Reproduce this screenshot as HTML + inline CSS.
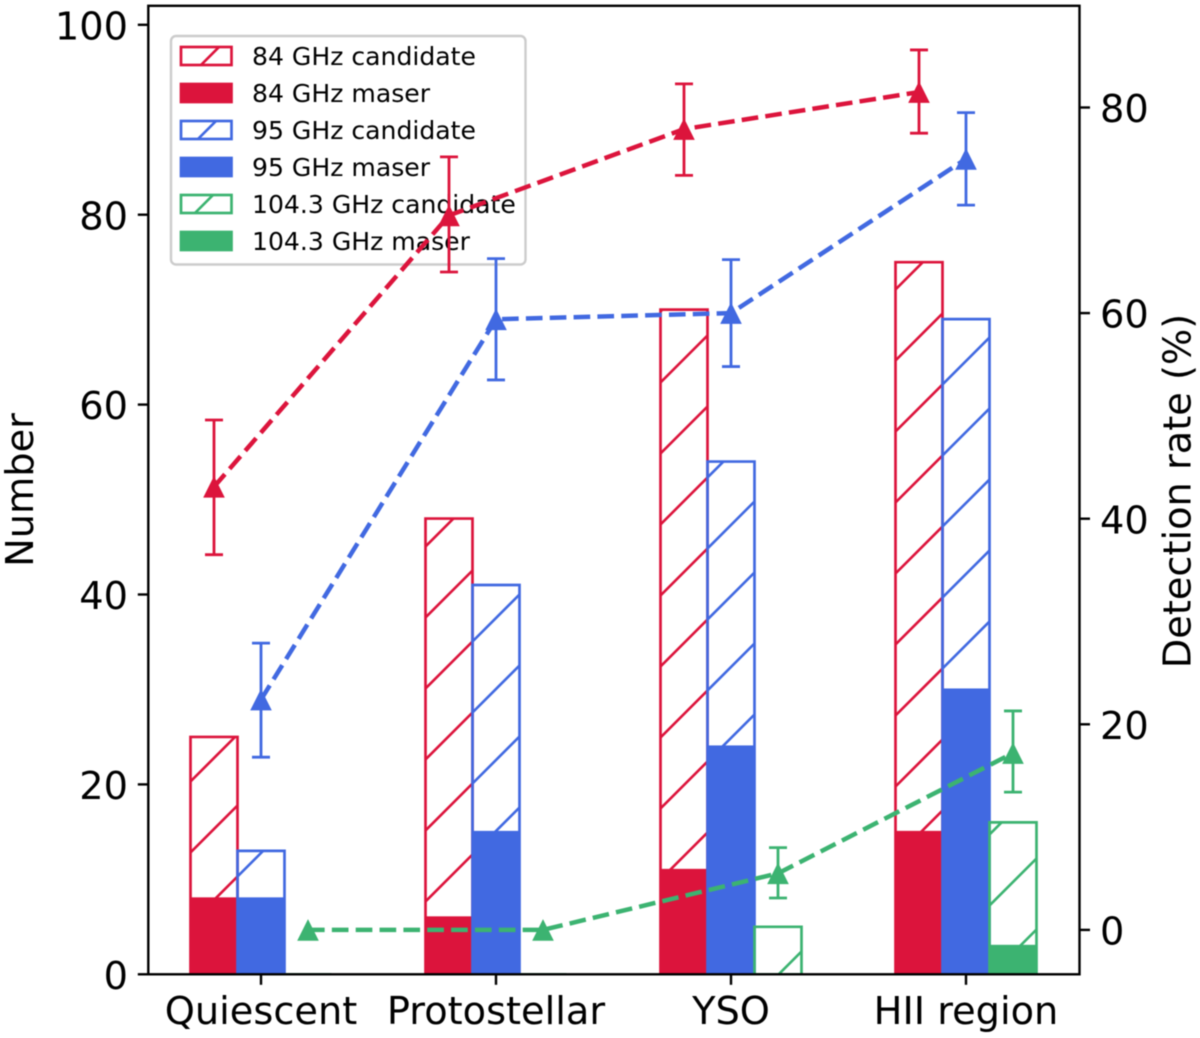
<!DOCTYPE html>
<html lang="en">
<head>
<meta charset="utf-8">
<title>Maser detection by evolutionary stage</title>
<style>
html,body{margin:0;padding:0;background:#fff;}
svg{display:block;filter:blur(0.4px);}
text{font-family:"DejaVu Sans","Liberation Sans",sans-serif;fill:#000;}
</style>
</head>
<body>
<svg id="chart" xmlns="http://www.w3.org/2000/svg" width="1200" height="1038" viewBox="0 0 1200 1038"></svg>
<script>
// ---- data ----
const categories = ["Quiescent", "Protostellar", "YSO", "HII region"];
const candidate84 = [25, 48, 70, 75];
const maser84 = [8, 6, 11, 15];
const candidate95 = [13, 41, 54, 69];
const maser95 = [8, 15, 24, 30];
const candidate104 = [0, 0, 5, 16];
const maser104 = [0, 0, 0, 3];
const rate84 = [43.1, 69.5, 77.9, 81.5];
const rate84Upper = [49.6, 75.2, 82.3, 85.6];
const rate84Lower = [36.5, 64.0, 73.4, 77.5];
const rate95 = [22.4, 59.4, 60.0, 75.0];
const rate95Upper = [27.9, 65.3, 65.2, 79.5];
const rate95Lower = [16.8, 53.5, 54.8, 70.5];
const rate104 = [0, 0, 5.5, 17.2];
const rate104Upper = [0, 0, 8.0, 21.3];
const rate104Lower = [0, 0, 3.1, 13.4];
const leftTicks = [0, 20, 40, 60, 80, 100];
const rightTicks = [0, 20, 40, 60, 80];
const legendLabels = ["84 GHz candidate", "84 GHz maser", "95 GHz candidate", "95 GHz maser", "104.3 GHz candidate", "104.3 GHz maser"];

// ---- geometry ----
const NS = "http://www.w3.org/2000/svg";
const svg = document.getElementById("chart");
const plot = {left: 148.3, right: 1079.5, top: 5.8, bottom: 974.3};
const barW = 47;
const RED = "#DC143C", BLUE = "#4169E1", GREEN = "#3CB371";
function xPos(i) { return 261 + 235 * i; }
function yLeft(v) { return 974.3 - 9.495 * v; }
function yRight(v) { return 929.9 - 10.28 * v; }

function make(tag, attrs, parent, text) {
  const el = document.createElementNS(NS, tag);
  for (const k in attrs) el.setAttribute(k, attrs[k]);
  if (text !== undefined) el.textContent = text;
  (parent || svg).appendChild(el);
  return el;
}

// ---- defs: hatch patterns and clip ----
const defs = make("defs", {});
function hatchPattern(id, color, shift) {
  const p = make("pattern", {id: id, patternUnits: "userSpaceOnUse", width: 71, height: 71, patternTransform: "translate(" + shift + " 0)"}, defs);
  make("path", {d: "M-6 55L55 -6M-6 126L126 -6", stroke: color, "stroke-width": 2.6, fill: "none"}, p);
}
hatchPattern("hatch-red", RED, 0);
hatchPattern("hatch-blue", BLUE, 0);
hatchPattern("hatch-green", GREEN, 0);
hatchPattern("hatch-red-legend", RED, 4);
hatchPattern("hatch-blue-legend", BLUE, 4);
hatchPattern("hatch-green-legend", GREEN, 4);
const clip = make("clipPath", {id: "plot-clip"}, defs);
make("rect", {x: plot.left, y: plot.top, width: plot.right - plot.left, height: plot.bottom - plot.top}, clip);

// ---- bars ----
const barLayer = make("g", {"clip-path": "url(#plot-clip)"});



function drawBars(candidate, maser, offset, color, hatchId, label) {
  categories.forEach(function (cat, i) {
    const x0 = xPos(i) + offset - barW / 2;
    const x1 = x0 + barW;
    const yc = yLeft(candidate[i]);
    const hatchBar = make("path", {d: "M" + x0 + " " + plot.bottom + "H" + x1 + "V" + yc + "H" + x0 + "Z", fill: "url(#" + hatchId + ")", stroke: color, "stroke-width": 2.7}, barLayer);
    
    
    if (maser[i] > 0) {
      const ym = yLeft(maser[i]);
      const solidBar = make("rect", {x: x0, y: ym, width: barW, height: plot.bottom - ym, fill: color, stroke: color, "stroke-width": 2}, barLayer);
      
      
    }
  });
}
drawBars(candidate84, maser84, -47, RED, "hatch-red", "84ghz");
drawBars(candidate95, maser95, 0, BLUE, "hatch-blue", "95ghz");
drawBars(candidate104, maser104, 47, GREEN, "hatch-green", "104ghz");

// ---- legend ----
const legend = make("g", {});


make("rect", {x: 171, y: 36, width: 354.5, height: 228.5, rx: 5, ry: 5, fill: "#fff", "fill-opacity": 0.8, stroke: "#cccccc", "stroke-width": 2.4}, legend);
const legendColors = [RED, RED, BLUE, BLUE, GREEN, GREEN];
const legendHatch = ["hatch-red-legend", null, "hatch-blue-legend", null, "hatch-green-legend", null];
legendLabels.forEach(function (label, i) {
  const cy = 56 + i * 37;
  const swatch = make("rect", {x: 181, y: cy - 9, width: 50.5, height: 18, fill: legendHatch[i] ? "url(#" + legendHatch[i] + ")" : legendColors[i], stroke: legendColors[i], "stroke-width": 2.7}, legend);
  
  
  const entry = make("text", {x: 252, y: cy + 9, "font-size": 25.1}, legend, label);
  
  
});

// ---- rate series ----
function drawSeries(rate, upper, lower, offset, color, label) {
  const g = make("g", {});
  
  
  rate.forEach(function (r, i) {
    const x = xPos(i) + offset;
    if (upper[i] !== lower[i]) {
      const bar = make("path", {d: "M" + x + " " + yRight(upper[i]) + "V" + yRight(lower[i]) + "M" + (x - 9) + " " + yRight(upper[i]) + "H" + (x + 9) + "M" + (x - 9) + " " + yRight(lower[i]) + "H" + (x + 9), stroke: color, "stroke-width": 2.8, fill: "none"}, g);
      
      
    }
  });
  const pts = rate.map(function (r, i) { return (xPos(i) + offset) + "," + yRight(r); }).join(" ");
  const line = make("polyline", {points: pts, fill: "none", stroke: color, "stroke-width": 4.5, "stroke-dasharray": "16.65 7.2"}, g);
  
  
  rate.forEach(function (r, i) {
    const x = xPos(i) + offset, y = yRight(r), s = 10.8;
    const tri = make("polygon", {points: x + "," + (y - s) + " " + (x + s) + "," + (y + s) + " " + (x - s) + "," + (y + s), fill: color}, g);
    
    
  });
}
drawSeries(rate84, rate84Upper, rate84Lower, -47, RED, "84ghz");
drawSeries(rate95, rate95Upper, rate95Lower, 0, BLUE, "95ghz");
drawSeries(rate104, rate104Upper, rate104Lower, 47, GREEN, "104ghz");

// ---- axes ----
const axes = make("g", {});


const frame = make("rect", {x: plot.left, y: plot.top, width: plot.right - plot.left, height: plot.bottom - plot.top, fill: "none", stroke: "#000", "stroke-width": 2.4}, axes);



leftTicks.forEach(function (v) {
  const y = yLeft(v);
  const tick = make("line", {x1: plot.left - 10.5, x2: plot.left, y1: y, y2: y, stroke: "#000", "stroke-width": 2.4}, axes);
  
  
  const t = make("text", {x: 128, y: y + 14.6, "text-anchor": "end", "font-size": 38.3}, axes, String(v));
  
  
});
rightTicks.forEach(function (v) {
  const y = yRight(v);
  const tick = make("line", {x1: plot.right, x2: plot.right + 10.5, y1: y, y2: y, stroke: "#000", "stroke-width": 2.4}, axes);
  
  
  const t = make("text", {x: 1100, y: y + 14.6, "font-size": 38.3}, axes, String(v));
  
  
});
categories.forEach(function (cat, i) {
  const x = xPos(i);
  const tick = make("line", {x1: x, x2: x, y1: plot.bottom, y2: plot.bottom + 10.5, stroke: "#000", "stroke-width": 2.4}, axes);
  
  
  const t = make("text", {x: x, y: 1024, "text-anchor": "middle", "font-size": 38.3}, axes, cat);
  
  
});
const yTitleLeft = make("text", {transform: "translate(33 490) rotate(-90)", "text-anchor": "middle", "font-size": 38.3}, axes, "Number");


const yTitleRight = make("text", {transform: "translate(1190.5 491) rotate(-90)", "text-anchor": "middle", "font-size": 38.3}, axes, "Detection rate (%)");


</script>
</body>
</html>
